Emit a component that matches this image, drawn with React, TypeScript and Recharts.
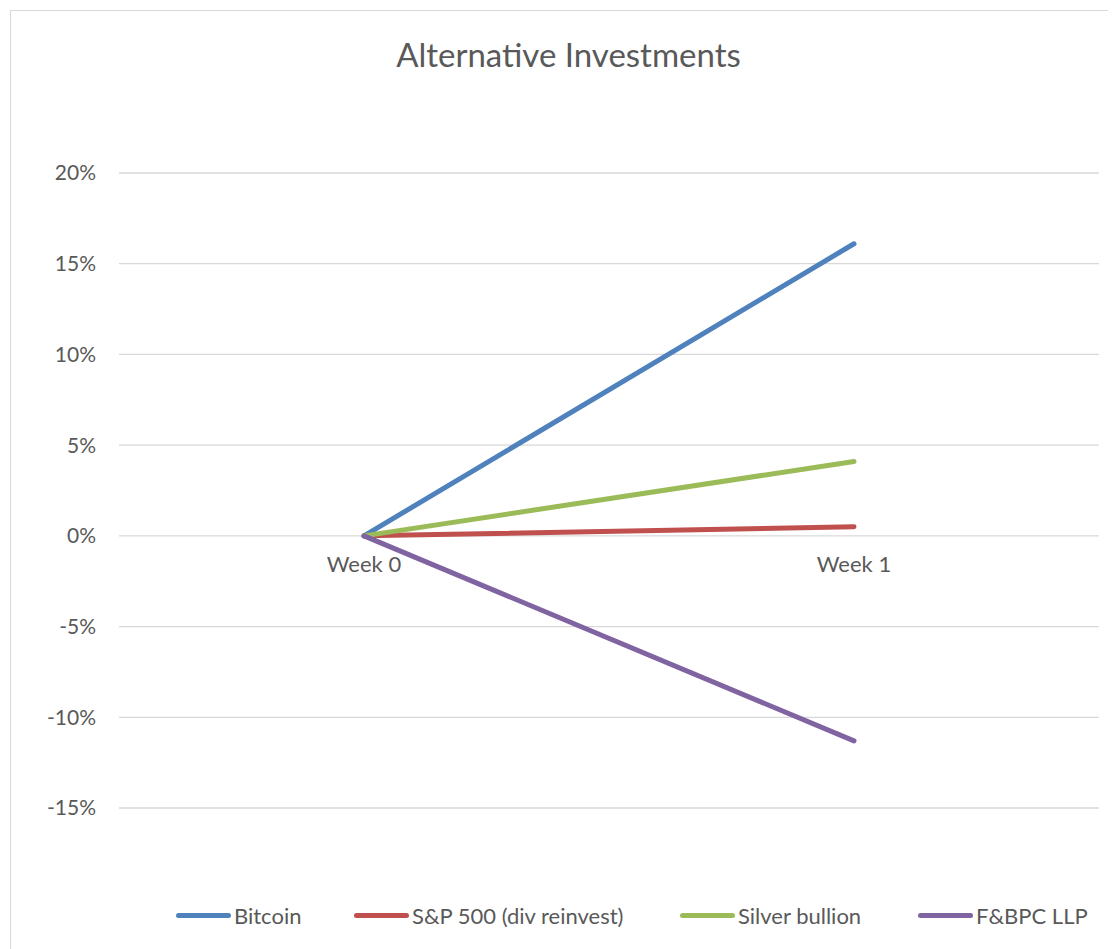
import React from 'react';
import { LineChart, Line, XAxis, YAxis, CartesianGrid, Legend, ReferenceDot } from 'recharts';

const categories = ['Week 0', 'Week 1'];
const bitcoin = [0, 0.161];
const sp500 = [0, 0.005];
const silver = [0, 0.041];
const fbpc = [0, -0.113];
const yTicks = [-0.15, -0.1, -0.05, 0, 0.05, 0.1, 0.15, 0.2];

const series = [
  { key: 'Bitcoin', values: bitcoin, color: '#4F81BD' },
  { key: 'S&P 500 (div reinvest)', values: sp500, color: '#C0504D' },
  { key: 'Silver bullion', values: silver, color: '#9BBB59' },
  { key: 'F&BPC LLP', values: fbpc, color: '#8064A2' },
];

const data = categories.map((week, i) => {
  const row: Record<string, any> = { week };
  series.forEach((s) => {
    row[s.key] = s.values[i];
  });
  return row;
});

const textColor = '#595959';
const font = 'Lato, "Open Sans", sans-serif';
// legend item widths so each swatch starts where Excel put it
const legendWidths = [178, 326, 238, 200];

const pct = (v: number) => `${Math.round(v * 100)}%`;

// recharts sorts the legend payload by name, so keep the series order here
function renderLegend(props: any) {
  const payload: any[] = props.payload || [];
  const ordered = series.map((s) => payload.find((p) => p.value === s.key) || { value: s.key, color: s.color });
  return (
    <div style={{ display: 'flex', alignItems: 'center', height: 28, fontFamily: font }}>
      {ordered.map((p: any, i: number) => (
        <div key={p.value} style={{ display: 'flex', alignItems: 'center', width: legendWidths[i] }}>
          <span
            style={{
              display: 'inline-block',
              width: 55,
              height: 5,
              borderRadius: 3,
              background: p.color,
              marginRight: 3,
            }}
          />
          <span style={{ color: textColor, fontSize: 22, whiteSpace: 'nowrap' }}>{p.value}</span>
        </div>
      ))}
    </div>
  );
}

export default function App() {
  return (
    <div style={{ position: 'relative', width: 1108, height: 941, fontFamily: font }}>
      <div
        style={{
          position: 'absolute',
          left: 2,
          top: 2,
          width: 1106,
          height: 939,
          boxSizing: 'border-box',
          borderTop: '1.5px solid #d9d9d9',
          borderLeft: '1.5px solid #d9d9d9',
        }}
      />
      <div
        style={{
          position: 'absolute',
          left: 0,
          top: 26,
          width: 1121,
          textAlign: 'center',
          fontSize: 33,
          lineHeight: '40px',
          color: textColor,
        }}
      >
        Alternative Investments
      </div>
      <div style={{ position: 'absolute', left: 0, top: 0 }}>
        <LineChart width={1108} height={941} data={data} margin={{ top: 165, right: 17, bottom: 141, left: 0 }}>
          <CartesianGrid vertical={false} stroke="#d9d9d9" strokeWidth={1.3} />
          <XAxis dataKey="week" hide padding={{ left: 245, right: 245 }} />
          <YAxis
            width={111}
            domain={[-0.15, 0.2]}
            ticks={yTicks}
            tickFormatter={pct}
            axisLine={false}
            tickLine={false}
            tickSize={0}
            tickMargin={23}
            tick={{ fill: textColor, fontSize: 21, fontFamily: font }}
            interval={0}
          />
          {series.map((s) => (
            <Line
              key={s.key}
              dataKey={s.key}
              stroke={s.color}
              strokeWidth={5}
              strokeLinecap="round"
              dot={false}
              activeDot={false}
              isAnimationActive={false}
            />
          ))}
          {categories.map((c) => (
            <ReferenceDot
              key={c}
              x={c}
              y={0}
              r={0}
              fill="none"
              stroke="none"
              label={{ value: c, position: 'bottom', offset: 21, fill: textColor, fontSize: 22, fontFamily: font }}
            />
          ))}
          <Legend
            verticalAlign="middle"
            layout="horizontal"
            content={renderLegend}
            wrapperStyle={{ top: 893, left: 168, width: 960 }}
          />
        </LineChart>
      </div>
    </div>
  );
}
